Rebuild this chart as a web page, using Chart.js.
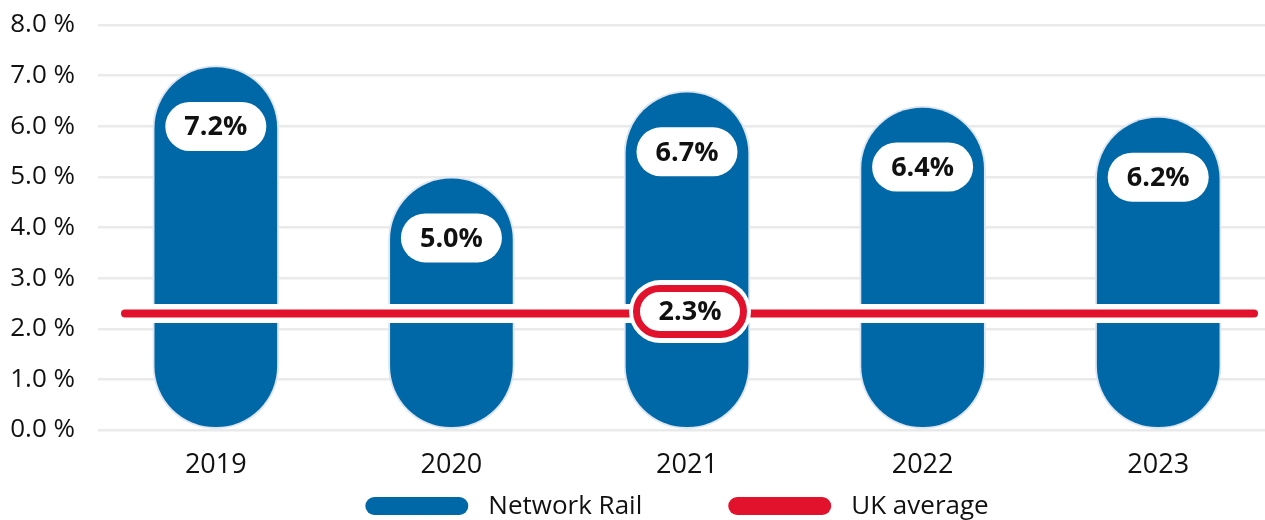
<!DOCTYPE html>
<html>
<head>
<meta charset="utf-8">
<title>Sickness absence</title>
<script src="https://cdn.jsdelivr.net/npm/chart.js@4.4.1/dist/chart.umd.min.js"></script>
<style>
  html, body { margin: 0; padding: 0; background: #fff; overflow: hidden; }
  #wrap { width: 1276px; height: 520px; }
</style>
</head>
<body>
<div id="wrap"><canvas id="absenceChart" width="1276" height="520"></canvas></div>
<script>
const years = ["2019", "2020", "2021", "2022", "2023"];
const networkRail = [7.2, 5.0, 6.7, 6.4, 6.2];
const ukAverage = [2.3, 2.3, 2.3, 2.3, 2.3];
const yTickLabels = ["0.0 %", "1.0 %", "2.0 %", "3.0 %", "4.0 %", "5.0 %", "6.0 %", "7.0 %", "8.0 %"];

const BLUE = "#0068a6";
const RED = "#e2122d";
const INK = "#111111";
const FONT = "'Open Sans', sans-serif";

function pill(ctx, cx, cy, w, h) {
  const r = h / 2;
  ctx.beginPath();
  ctx.moveTo(cx - w / 2 + r, cy - r);
  ctx.lineTo(cx + w / 2 - r, cy - r);
  ctx.arc(cx + w / 2 - r, cy, r, -Math.PI / 2, Math.PI / 2);
  ctx.lineTo(cx - w / 2 + r, cy + r);
  ctx.arc(cx - w / 2 + r, cy, r, Math.PI / 2, Math.PI * 1.5);
  ctx.closePath();
}

/* ---------- UK average line, cut through the bars ---------- */
const ukLine = {
  id: "ukLine",
  afterDatasetsDraw(chart) {
    const { ctx, chartArea, scales: { x, y } } = chart;
    const yPos = y.getPixelForValue(ukAverage[0]);
    const x0 = chartArea.left + 27;
    const x1 = chartArea.right - 22;

    ctx.save();
    ctx.lineCap = "round";
    ctx.strokeStyle = "#fff";
    ctx.lineWidth = 19;
    ctx.beginPath();
    ctx.moveTo(x0, yPos);
    ctx.lineTo(x1, yPos);
    ctx.stroke();

    ctx.strokeStyle = RED;
    ctx.lineWidth = 8;
    ctx.beginPath();
    ctx.moveTo(x0, yPos);
    ctx.lineTo(x1, yPos);
    ctx.stroke();

    // value badge on the middle year
    const mid = Math.floor(years.length / 2);
    const cx = x.getPixelForValue(mid) + 3;
    ctx.fillStyle = "#fff";
    pill(ctx, cx, yPos - 2, 122, 63);
    ctx.fill();
    pill(ctx, cx, yPos - 2, 107, 46);
    ctx.fill();
    ctx.strokeStyle = RED;
    ctx.lineWidth = 7;
    ctx.stroke();

    ctx.fillStyle = INK;
    ctx.font = "bold 27px " + FONT;
    ctx.textAlign = "center";
    ctx.textBaseline = "middle";
    ctx.fillText(ukAverage[mid].toFixed(1) + "%", cx, yPos - 1);
    ctx.restore();
  }
};

/* ---------- value badges at the top of each bar ---------- */
const barLabels = {
  id: "barLabels",
  afterDatasetsDraw(chart) {
    const { ctx } = chart;
    const meta = chart.getDatasetMeta(0);
    ctx.save();
    ctx.font = "bold 27px " + FONT;
    ctx.textAlign = "center";
    ctx.textBaseline = "middle";
    meta.data.forEach((bar, i) => {
      const cy = bar.y + 61;
      ctx.fillStyle = "#fff";
      pill(ctx, bar.x, cy, 101, 49);
      ctx.fill();
      ctx.fillStyle = INK;
      ctx.fillText(networkRail[i].toFixed(1) + "%", bar.x, cy + 1);
    });
    ctx.restore();
  }
};

/* ---------- legend with pill swatches ---------- */
const pillLegend = {
  id: "pillLegend",
  afterDraw(chart) {
    const { ctx, chartArea } = chart;
    const swW = 103, swH = 18, textGap = 20, itemGap = 86;
    ctx.save();
    ctx.font = "26px " + FONT;
    const items = chart.data.datasets.map(ds => ({
      text: ds.label,
      color: ds.backgroundColor,
      w: ctx.measureText(ds.label).width
    }));
    const total = items.reduce((s, it) => s + swW + textGap + it.w, 0) + itemGap * (items.length - 1);
    let xPos = (chartArea.left + chartArea.right) / 2 - total / 2 - 10;
    const yMid = chart.scales.x.bottom + 27;
    ctx.textBaseline = "middle";
    ctx.textAlign = "left";
    items.forEach(it => {
      ctx.fillStyle = it.color;
      pill(ctx, xPos + swW / 2, yMid, swW, swH);
      ctx.fill();
      ctx.fillStyle = INK;
      ctx.fillText(it.text, xPos + swW + textGap, yMid + 1);
      xPos += swW + textGap + it.w + itemGap;
    });
    ctx.restore();
  }
};

new Chart(document.getElementById("absenceChart"), {
  type: "bar",
  data: {
    labels: years,
    datasets: [
      {
        label: "Network Rail",
        data: networkRail,
        backgroundColor: BLUE,
        borderColor: "#dde6f2",
        borderWidth: 2,
        borderRadius: 200,
        borderSkipped: false,
        barThickness: 126,
        order: 2
      },
      {
        type: "line",
        label: "UK average",
        data: ukAverage,
        backgroundColor: RED,
        borderColor: "rgba(0,0,0,0)",
        borderWidth: 0,
        pointRadius: 0,
        order: 1
      }
    ]
  },
  options: {
    responsive: false,
    animation: false,
    layout: { padding: { top: 25, left: 11, right: 0, bottom: 41 } },
    plugins: {
      legend: { display: false },
      tooltip: { enabled: false }
    },
    scales: {
      x: {
        grid: { display: false, drawTicks: false },
        border: { display: false },
        ticks: { font: { family: FONT, size: 27 }, color: INK, padding: 19 },
        afterFit: scale => { scale.height = 49; }
      },
      y: {
        min: 0,
        max: 8,
        ticks: {
          stepSize: 1,
          font: { family: FONT, size: 26 },
          color: INK,
          padding: 23,
          callback: (v, i) => yTickLabels[i]
        },
        grid: { color: "#eaeaea", lineWidth: 2.5, drawTicks: false },
        border: { display: false },
        afterFit: scale => {
          scale.width = 87;
          scale.paddingTop = 0;
          scale.paddingBottom = 0;
        }
      }
    }
  },
  plugins: [ukLine, barLabels, pillLegend]
});
</script>
</body>
</html>
